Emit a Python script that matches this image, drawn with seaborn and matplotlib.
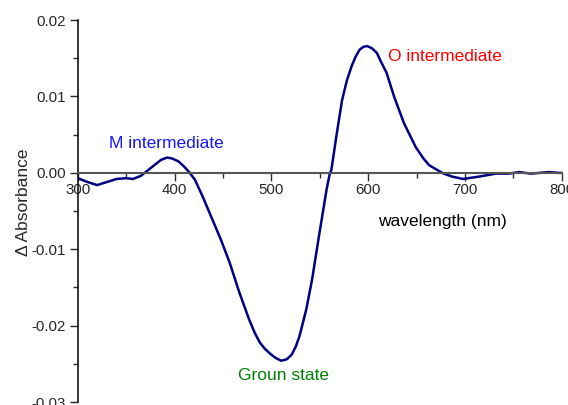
import matplotlib
matplotlib.use('Agg')
from matplotlib import pyplot as plt
from matplotlib.ticker import MultipleLocator, FormatStrFormatter
import seaborn as sns
import pandas as pd

# difference spectrum
wavelength = [300, 310, 320, 330, 340, 350, 357, 365, 372, 380, 386, 392, 397, 404,
              410, 415, 421, 429, 439, 448, 457, 467, 477, 483, 488, 493, 498, 504,
              510, 516, 521, 525, 529, 536, 542, 549, 557, 560, 562, 567, 573, 578,
              583, 587, 591, 595, 599, 604, 609, 613, 619, 627, 637, 649, 657, 663,
              671, 678, 687, 698, 714, 732, 745, 756, 768, 787, 797, 800]
absorbance = [-0.0007, -0.0012, -0.0016, -0.0012, -0.0008, -0.0007, -0.0008, -0.0004,
              0.0003, 0.0011, 0.0017, 0.0020, 0.0019, 0.0015, 0.0008, 0.0001, -0.0009,
              -0.0031, -0.0061, -0.0088, -0.0118, -0.0157, -0.0192, -0.0210, -0.0222,
              -0.0230, -0.0236, -0.0242, -0.0246, -0.0244, -0.0238, -0.0228, -0.0214,
              -0.0179, -0.0140, -0.0084, -0.0022, -0.0003, 0.0004, 0.0047, 0.0095,
              0.0121, 0.0140, 0.0152, 0.0161, 0.0165, 0.0166, 0.0163, 0.0157, 0.0146,
              0.0131, 0.0099, 0.0065, 0.0034, 0.0019, 0.0010, 0.0004, -0.0001, -0.0005,
              -0.0008, -0.0005, -0.0001, -0.0001, 0.0001, -0.0001, 0.0001, 0.0, 0.0]

labels = ['M intermediate', 'O intermediate', 'Groun state', 'wavelength (nm)']
label_x = [392, 679, 512, 677]
label_y = [0.0039, 0.0152, -0.0265, -0.0064]
label_colors = ['#1515ff', '#ff0000', '#008000', '#000000']


def PlotAll(out):
    sns.set_style('ticks')
    plt.rcParams['font.family'] = ['Liberation Sans', 'DejaVu Sans']
    plt.rcParams['axes.unicode_minus'] = False
    pd_data = pd.DataFrame({'wavelength': wavelength, 'absorbance': absorbance})

    fig = plt.figure(figsize=(5.68, 4.05), dpi=100)
    axe = fig.add_axes([0.137, 0.0074, 0.852, 0.943])
    sns.lineplot(x='wavelength', y='absorbance', data=pd_data, ax=axe,
                 color='#000080', linewidth=1.8, sort=False,
                 solid_joinstyle='round', solid_capstyle='round')

    axe.set_xlim(300, 800)
    axe.set_ylim(-0.03, 0.02)
    axe.spines['top'].set_visible(False)
    axe.spines['right'].set_visible(False)
    axe.spines['bottom'].set_position(('data', 0))
    axe.spines['bottom'].set_color('#555555')
    axe.spines['bottom'].set_linewidth(1.5)
    axe.spines['left'].set_color('black')
    axe.spines['left'].set_linewidth(1.1)

    axe.xaxis.set_major_locator(MultipleLocator(100))
    axe.xaxis.set_minor_locator(MultipleLocator(50))
    axe.yaxis.set_major_locator(MultipleLocator(0.01))
    axe.yaxis.set_minor_locator(MultipleLocator(0.005))
    axe.yaxis.set_major_formatter(FormatStrFormatter('%.2f'))
    axe.tick_params(axis='x', which='major', direction='out', length=5.8, width=1,
                    color='#333333', labelsize=10.8, pad=1.5)
    axe.tick_params(axis='x', which='minor', direction='out', length=3.6, width=1,
                    color='#333333')
    axe.tick_params(axis='y', which='major', direction='out', length=5.8, width=1,
                    labelsize=10.8, pad=3.0)
    axe.tick_params(axis='y', which='minor', direction='out', length=3.6, width=1)

    axe.set_xlabel('')
    axe.set_ylabel('\u0394 Absorbance', fontsize=12.5)
    axe.yaxis.set_label_coords(-0.097, 0.524)

    for txt, x, y, c in zip(labels, label_x, label_y, label_colors):
        axe.text(x, y, txt, color=c, fontsize=12.5, ha='center', va='center')

    plt.savefig(out, dpi=100)


if __name__ == '__main__':
    PlotAll('out.png')
